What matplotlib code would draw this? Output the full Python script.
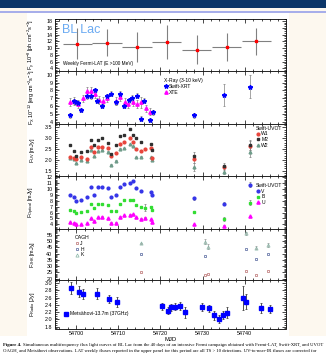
import matplotlib
matplotlib.use('Agg')
import numpy as np
import matplotlib.pyplot as plt
from matplotlib.ticker import MultipleLocator
from matplotlib.patches import Rectangle
from matplotlib.lines import Line2D

plt.rcParams['font.family'] = ['Liberation Sans', 'DejaVu Sans']
plt.rcParams['mathtext.fontset'] = 'custom'
plt.rcParams['mathtext.rm'] = 'Liberation Sans'
plt.rcParams['mathtext.it'] = 'Liberation Sans:italic'
plt.rcParams['mathtext.default'] = 'regular'

# ---- data (MJD / fluxes) ----
lat_mjd = [54700.3, 54707.3, 54714.4, 54721.5, 54728.6, 54735.7, 54742.8]
lat_flux = [11.3, 11.6, 10.3, 11.8, 9.5, 10.3, 12.0]
lat_err = [4.5, 4.0, 4.5, 5.0, 4.3, 4.2, 4.0]

xrt_mjd = [54698.6, 54699.5, 54700.0, 54700.5, 54701.1, 54702.7, 54703.5, 54704.5,
           54705.0, 54706.1, 54707.4, 54708.4, 54709.4, 54710.4, 54711.3, 54712.6,
           54713.3, 54714.5, 54715.4, 54716.2, 54717.6, 54718.3, 54728.0, 54735.2, 54741.3]
xrt_flux = [4.8, 6.6, 6.5, 6.4, 5.5, 7.3, 7.3, 8.0, 6.7, 6.0, 7.3, 7.6, 6.5, 7.6, 6.0,
            6.75, 7.05, 7.35, 4.4, 6.7, 4.2, 5.2, 4.8, 7.45, 8.5]
xrt_err = [0.35, 0.3, 0.3, 0.3, 0.3, 0.4, 0.4, 0.3, 0.35, 0.3, 0.3, 0.3, 0.3, 0.3, 0.3,
           0.35, 0.35, 0.3, 0.3, 0.35, 0.3, 0.35, 0.35, 1.4, 1.5]

xte_mjd = [54698.6, 54699.5, 54700.5, 54701.6, 54702.5, 54703.5, 54704.5, 54705.4,
           54706.5, 54707.4, 54709.4, 54710.4, 54711.5, 54712.4, 54713.5, 54714.5,
           54715.4, 54716.5, 54717.6]
xte_flux = [6.5, 6.65, 6.3, 7.0, 7.95, 7.95, 7.55, 6.8, 6.7, 7.05, 6.7, 7.2, 6.5, 6.3,
            6.5, 6.25, 6.5, 5.7, 5.3]
xte_err = [0.5, 0.5, 0.5, 0.45, 0.5, 0.5, 0.5, 0.5, 0.45, 0.5, 0.5, 0.5, 0.5, 0.5,
           0.5, 0.5, 0.7, 0.5, 0.5]

uv_mjd = [54698.6, 54699.5, 54700.1, 54701.1, 54702.6, 54703.5, 54704.3, 54705.1,
          54706.1, 54707.6, 54708.4, 54709.5, 54710.4, 54711.3, 54712.7, 54713.4,
          54714.3, 54715.4, 54716.3, 54717.8, 54718.1, 54728.0, 54735.2, 54741.3]
uv_w1 = [2.12, 2.09, 2.02, 2.12, 2.02, 2.61, 2.37, 2.58, 2.58, 2.55, 2.16, 2.30, 2.71,
         2.83, 3.02, 2.83, 2.51, 2.41, 2.49, 2.55, 2.10, 2.04, 1.66, 2.66]
uv_m2 = [2.67, 2.40, 2.20, 2.35, 2.40, 2.93, 2.67, 2.93, 3.02, 2.80, 2.29, 2.69, 3.09,
         3.17, 3.42, 3.17, 3.02, 2.83, np.nan, 2.71, 2.47, 2.20, 1.73, 2.69]
uv_w2 = [2.08, 2.05, 1.84, 2.00, 1.93, 2.44, 2.16, 2.40, 2.44, 2.37, 1.78, 1.96, 2.51,
         2.53, 2.71, 2.63, 2.12, 2.14, np.nan, 2.12, 2.00, 1.65, 1.45, 2.35]
uv_err = [0.03] * 21 + [0.18, 0.12, 0.22]

opt_v = [8.9, 8.6, 8.0, 8.07, 8.7, 10.35, 9.05, 10.4, 10.4, 10.1, 8.7, 8.93, 10.35,
         10.86, 11.08, 11.37, 10.1, 9.6, np.nan, 9.4, 9.04, 8.4, 7.5, 10.7]
opt_b = [6.35, 6.25, 6.0, 6.05, 6.25, 7.45, 6.7, 7.45, 7.5, 7.35, 6.25, 6.2, 7.5, 8.05,
         8.1, 8.1, 7.2, 7.0, 6.8, 7.0, 6.4, 6.05, 4.9, 7.68]
opt_u = [4.34, 4.28, 4.0, 4.0, 4.17, 5.02, 4.61, 5.19, 5.3, 5.02, 4.28, 4.28, 5.3, 5.53,
         5.64, 5.75, 5.19, 4.96, 5.13, 4.85, 4.34, 4.0, 3.77, 5.4]
opt_err = [0.05] * 18 + [0.6] + [0.05] * 2 + [0.2, 0.3, 0.4]

nir_mjd = [54715.5, 54730.5, 54731.3, 54740.4, 54742.6, 54745.5]
nir_j = [25.0, 23.0, 23.5, 26.1, 22.7, 26.5]
nir_h = [39.4, 38.3, np.nan, 43.4, 35.7, 40.0]
nir_k = [48.2, 49.4, 45.5, 56.0, 44.7, 46.5]
nir_kerr = [0.5, 2.0, 2.0, 1.5, 1.0, 1.5]

radio_mjd = [54698.7, 54700.8, 54701.7, 54705.0, 54707.8, 54709.8, 54720.5, 54721.8,
             54722.5, 54723.5, 54724.6, 54725.8, 54729.8, 54731.5, 54732.8, 54733.8,
             54734.8, 54735.8, 54739.7, 54740.3, 54743.9, 54745.9]
radio_flux = [2.86, 2.76, 2.70, 2.71, 2.56, 2.48, 2.36, 2.24, 2.33, 2.35, 2.37, 2.20,
              2.34, 2.31, 2.11, 2.01, 2.12, 2.19, 2.59, 2.49, 2.32, 2.29]
radio_err = [0.16, 0.15, 0.14, 0.15, 0.12, 0.13, 0.1, 0.1, 0.1, 0.1, 0.12, 0.15,
             0.12, 0.1, 0.12, 0.1, 0.12, 0.15, 0.32, 0.2, 0.14, 0.12]

W, H = 326, 354
fig = plt.figure(figsize=(W / 100, H / 100), dpi=100)
fig.patch.set_facecolor('#fdf8ef')


def px_rect(x0, y0, x1, y1, color):
    fig.add_artist(Rectangle((x0 / W, 1 - y1 / H), (x1 - x0) / W, (y1 - y0) / H,
                             transform=fig.transFigure, color=color, lw=0, zorder=-10))


# page decoration of the screenshot
px_rect(0, 0, W, 7.5, '#0c3668')
px_rect(0, 10.5, W, 12.5, '#a7aeea')
px_rect(27, 13, 289, 336, 'white')
px_rect(0, 336, W, H, 'white')

tops = [19, 71, 124, 176, 229, 279.5, 328.5]
left, right = 55, 286
axes = []
for i in range(6):
    ax = fig.add_axes([left / W, 1 - tops[i + 1] / H, (right - left) / W,
                       (tops[i + 1] - tops[i]) / H])
    ax.set_xlim(54695, 54749.8)
    ax.xaxis.set_major_locator(MultipleLocator(10))
    ax.xaxis.set_minor_locator(MultipleLocator(2))
    ax.tick_params(which='both', direction='in', top=True, right=True,
                   labelsize=3.9, pad=1.8, width=0.5)
    ax.tick_params(which='major', length=3)
    ax.tick_params(which='minor', length=1.5)
    for s in ax.spines.values():
        s.set_linewidth(0.6)
    if i < 5:
        ax.tick_params(labelbottom=False)
    ax.yaxis.set_label_coords(-0.08, 0.5)
    axes.append(ax)

lab = dict(fontsize=4.0)
leg = dict(fontsize=3.6, title_fontsize=3.6, frameon=False, handlelength=0.8,
           handletextpad=0.3, borderpad=0, labelspacing=0.15, alignment='left',
           borderaxespad=0)
eb = dict(ecolor='#808080', elinewidth=0.5, capsize=0.8, capthick=0.5)

# panel 1 : Fermi-LAT
ax = axes[0]
ax.errorbar(lat_mjd, lat_flux, yerr=lat_err, xerr=3.5, fmt='s', ms=1.8,
            mfc='red', mec='red', ecolor='#808080', elinewidth=0.8, capsize=0)
ax.set_ylim(3.2, 18.6)
ax.yaxis.set_major_locator(MultipleLocator(2))
ax.yaxis.set_minor_locator(MultipleLocator(0.5))
ax.set_ylabel(r'F$_{\gamma}$ 10$^{-8}$ [ph cm$^{-2}$s$^{-1}$]', **lab)
ax.text(0.03, 0.79, 'BL Lac', transform=ax.transAxes, fontsize=9,
        color='#6aaaf2', va='center')
ax.text(0.035, 0.135, 'Weekly Fermi-LAT (E >100 MeV)', transform=ax.transAxes,
        fontsize=3.4, va='center')

# panel 2 : X-ray
ax = axes[1]
ax.errorbar(xte_mjd, xte_flux, yerr=xte_err, fmt='^', ms=2.4, mfc='#ff00ff',
            mec='#ff00ff', **eb)
ax.errorbar(xrt_mjd, xrt_flux, yerr=xrt_err, fmt='*', ms=3.2, mfc='#0000ff',
            mec='#0000ff', **eb)
ax.set_ylim(3.7, 10.5)
ax.yaxis.set_major_locator(MultipleLocator(1))
ax.yaxis.set_minor_locator(MultipleLocator(0.2))
ax.set_ylabel(r'F$_X$ 10$^{-12}$ [erg cm$^{-2}$s$^{-1}$]', **lab)
ax.legend([Line2D([], [], ls='', marker='*', ms=3.2, color='#0000ff'),
           Line2D([], [], ls='', marker='^', ms=2.4, color='#ff00ff')],
          ['Swift-XRT', 'XTE'], title='X-Ray (3-10 keV)', loc='upper left',
          bbox_to_anchor=(0.47, 0.86), **leg)

# panel 3 : UV
ax = axes[2]
ax.errorbar(uv_mjd, uv_w2, yerr=uv_err, fmt='^', ms=2.0, mfc='#6f9c8a', mec='#6f9c8a', **eb)
ax.errorbar(uv_mjd, uv_w1, yerr=uv_err, fmt='o', ms=2.0, mfc='#e8453c', mec='#e8453c', **eb)
ax.errorbar(uv_mjd, uv_m2, yerr=uv_err, fmt='s', ms=2.0, mfc='#303030', mec='#303030', **eb)
ax.set_ylim(1.25, 3.66)
ax.yaxis.set_major_locator(MultipleLocator(0.5))
ax.yaxis.set_minor_locator(MultipleLocator(0.1))
ax.set_ylabel(r'F$_{UV}$ [mJy]', **lab)
ax.legend([Line2D([], [], ls='', marker='o', ms=2.0, color='#e8453c'),
           Line2D([], [], ls='', marker='s', ms=2.0, color='#303030'),
           Line2D([], [], ls='', marker='^', ms=2.0, color='#6f9c8a')],
          ['W1', 'M2', 'W2'], title='Swift-UVOT', loc='upper left',
          bbox_to_anchor=(0.87, 0.97), **leg)

# panel 4 : optical
ax = axes[3]
ax.errorbar(uv_mjd, opt_v, yerr=opt_err, fmt='o', ms=2.0, mfc='#3535e8', mec='#3535e8', **eb)
ax.errorbar(uv_mjd, opt_b, yerr=opt_err, fmt='s', ms=2.0, mfc='#33dd33', mec='#33dd33', **eb)
ax.errorbar(uv_mjd, opt_u, yerr=[0.05] * 24, fmt='^', ms=2.3, mfc='#ff00ff',
            mec='#ff00ff', **eb)
ax.set_ylim(3.2, 12.2)
ax.yaxis.set_major_locator(MultipleLocator(1))
ax.yaxis.set_minor_locator(MultipleLocator(0.2))
ax.set_ylabel(r'F$_{Optical}$ [mJy]', **lab)
ax.legend([Line2D([], [], ls='', marker='o', ms=2.0, color='#3535e8'),
           Line2D([], [], ls='', marker='s', ms=2.0, color='#33dd33'),
           Line2D([], [], ls='', marker='^', ms=2.3, color='#ff00ff')],
          ['V', 'B', 'U'], title='Swift-UVOT', loc='upper left',
          bbox_to_anchor=(0.87, 0.87), **leg)

# panel 5 : near-IR
ax = axes[4]
ax.errorbar(nir_mjd, nir_k, yerr=nir_kerr, fmt='^', ms=2.3, mfc='none', mec='#86b4a4',
            mew=0.5, ecolor='#9a9a9a', elinewidth=0.5, capsize=0.8, capthick=0.5)
ax.plot(nir_mjd, nir_h, 's', ms=2.1, mfc='none', mec='#4c5e98', mew=0.5)
ax.plot(nir_mjd, nir_j, 's', ms=2.1, mfc='none', mec='#b86a6a', mew=0.5)
ax.set_ylim(19.4, 59.5)
ax.yaxis.set_major_locator(MultipleLocator(5))
ax.yaxis.set_minor_locator(MultipleLocator(1))
ax.set_ylabel(r'F$_{JHK}$ [mJy]', **lab)
ax.legend([Line2D([], [], ls='', marker='s', ms=2.1, mfc='none', mec='#b86a6a', mew=0.5),
           Line2D([], [], ls='', marker='s', ms=2.1, mfc='none', mec='#4c5e98', mew=0.5),
           Line2D([], [], ls='', marker='^', ms=2.3, mfc='none', mec='#86b4a4', mew=0.5)],
          ['J', 'H', 'K'], title='OAGH', loc='upper left',
          bbox_to_anchor=(0.085, 0.88), **leg)

# panel 6 : radio
ax = axes[5]
ax.errorbar(radio_mjd, radio_flux, yerr=radio_err, fmt='s', ms=2.2, mfc='#0000ff',
            mec='#0000ff', ecolor='#333333', elinewidth=0.6, capsize=1, capthick=0.5)
ax.set_ylim(1.75, 3.1)
ax.yaxis.set_major_locator(MultipleLocator(0.2))
ax.yaxis.set_minor_locator(MultipleLocator(0.05))
ax.set_ylabel(r'F$_{Radio}$ [Jy]', **lab)
ax.set_xlabel('MJD', fontsize=4.2, labelpad=1)
ax.xaxis.set_major_formatter(matplotlib.ticker.FormatStrFormatter('%d'))
ax.legend([Line2D([], [], ls='', marker='s', ms=2.2, color='#0000ff')],
          [u'Metsähovi-13.7m (37GHz)'], loc='center left',
          bbox_to_anchor=(0.04, 0.3), **leg)

# caption
cap1 = ('Simultaneous multifrequency flux light curves of BL Lac from the 40 days of an '
        'intensive Fermi campaign obtained with Fermi-LAT, Swift-XRT, and UVOT')
cap2 = (u'OAGH, and Metsähovi observations. LAT weekly fluxes reported in the upper panel '
        'for this period are all TS > 10 detections. UV-to-near-IR fluxes are corrected for')
capfont = dict(family=['Liberation Serif', 'DejaVu Serif'], fontsize=3.4, va='center')
t = fig.text(3 / W, 1 - 345 / H, 'Figure 4.', fontweight='bold', **capfont)
fig.canvas.draw()
bb = t.get_window_extent(fig.canvas.get_renderer())
fig.text(bb.x1 / W + 1.5 / W, 1 - 345 / H, cap1, **capfont)
fig.text(3 / W, 1 - 351 / H, cap2, **capfont)

fig.savefig('out.png', dpi=100, facecolor=fig.get_facecolor())
